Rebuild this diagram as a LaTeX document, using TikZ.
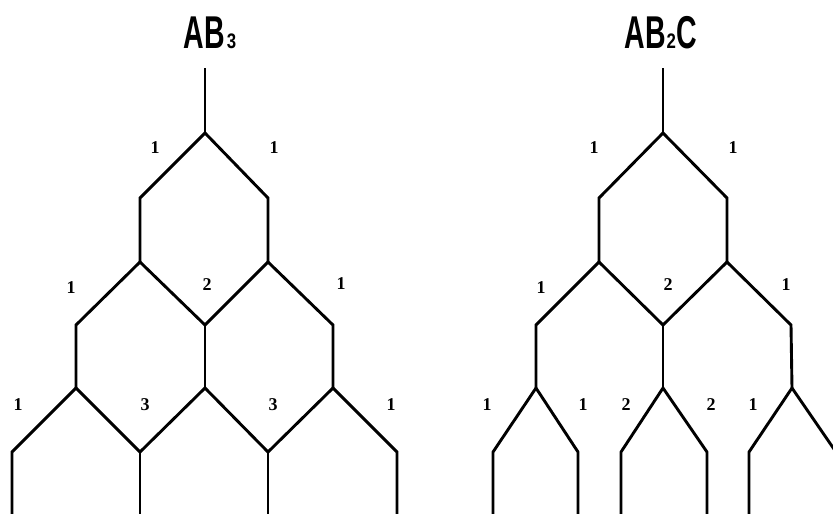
\documentclass[tikz,border=0pt]{standalone}
\usepackage{fontspec}
\setmainfont{Liberation Serif}
\newfontfamily\titlefont{Liberation Sans}
\newcommand{\narrow}[1]{\scalebox{0.62}[1]{\bfseries #1}}
\newcommand{\subdig}[1]{\scalebox{0.8}[1]{\fontsize{21}{21}\selectfont\bfseries #1}}
\begin{document}
\begin{tikzpicture}[x=1pt,y=-1pt,
  bond/.style={line width=2.9pt, line join=miter},
  lbl/.style={font=\bfseries\fontsize{18}{18}\selectfont, inner sep=0pt},
  ttl/.style={font=\titlefont\fontsize{46}{46}\selectfont, inner sep=0pt, anchor=base}]
\useasboundingbox (0,0) rectangle (833,514);
% ---------- left tree ----------
\coordinate (r0) at (205,68);  \coordinate (r) at (205,133);
\coordinate (a1) at (140,198); \coordinate (a2) at (268,198);
\coordinate (a1d) at (140,262); \coordinate (a2d) at (268,262);
\coordinate (b1) at (76,325); \coordinate (b2) at (205,325); \coordinate (b3) at (333,325);
\coordinate (b1d) at (76,388); \coordinate (b2d) at (205,388); \coordinate (b3d) at (333,388);
\coordinate (c1) at (12,452); \coordinate (c2) at (140,452); \coordinate (c3) at (268,452); \coordinate (c4) at (397,452);
\coordinate (c1d) at (12,518); \coordinate (c2d) at (140,518); \coordinate (c3d) at (268,518); \coordinate (c4d) at (397,518);
\draw[bond] (r0) -- (r);
\draw[bond] (a1d) -- (a1) -- (r) -- (a2) -- (a2d);
\draw[bond] (b1d) -- (b1) -- (a1d) -- (b2) -- (a2d) -- (b3) -- (b3d);
\draw[bond] (b2) -- (b2d);
\draw[bond] (c1d) -- (c1) -- (b1d) -- (c2) -- (b2d) -- (c3) -- (b3d) -- (c4) -- (c4d);
\draw[bond] (c2) -- (c2d);
\draw[bond] (c3) -- (c3d);
\node[ttl] (t1) at (210,48) {\narrow{AB}\hspace{2pt}\subdig{3}};
\node[lbl] (l1) at (155,148) {1};
\node[lbl] (l2) at (274,148) {1};
\node[lbl] (l3) at (71,288) {1};
\node[lbl] (l4) at (207,285) {2};
\node[lbl] (l5) at (341,284) {1};
\node[lbl] (l6) at (18,405) {1};
\node[lbl] (l7) at (145,405) {3};
\node[lbl] (l8) at (273,405) {3};
\node[lbl] (l9) at (391,405) {1};
% ---------- right tree ----------
\coordinate (R0) at (663,68);  \coordinate (R) at (663,133);
\coordinate (A1) at (599,198); \coordinate (A2) at (727,198);
\coordinate (A1d) at (599,262); \coordinate (A2d) at (727,262);
\coordinate (B1) at (536,325); \coordinate (B2) at (663,325); \coordinate (B3) at (791,325);
\coordinate (B1d) at (536,388); \coordinate (B2d) at (663,388); \coordinate (B3d) at (792,388);
\coordinate (C1) at (493,452); \coordinate (C2) at (578,452);
\coordinate (C3) at (621,452); \coordinate (C4) at (707,452);
\coordinate (C5) at (749,452); \coordinate (C6) at (836,452);
\coordinate (C1d) at (493,518); \coordinate (C2d) at (578,518);
\coordinate (C3d) at (621,518); \coordinate (C4d) at (707,518);
\coordinate (C5d) at (749,518); \coordinate (C6d) at (836,518);
\draw[bond] (R0) -- (R);
\draw[bond] (A1d) -- (A1) -- (R) -- (A2) -- (A2d);
\draw[bond] (B1d) -- (B1) -- (A1d) -- (B2) -- (A2d) -- (B3) -- (B3d);
\draw[bond] (B2) -- (B2d);
\draw[bond] (C1d) -- (C1) -- (B1d) -- (C2) -- (C2d);
\draw[bond] (C3d) -- (C3) -- (B2d) -- (C4) -- (C4d);
\draw[bond] (C5d) -- (C5) -- (B3d) -- (C6) -- (C6d);
\node[ttl] (t2) at (661,48) {\narrow{AB}\hspace{1pt}\subdig{2}\hspace{1pt}\narrow{C}};
\node[lbl] (m1) at (594,148) {1};
\node[lbl] (m2) at (733,148) {1};
\node[lbl] (m3) at (541,288) {1};
\node[lbl] (m4) at (668,285) {2};
\node[lbl] (m5) at (786,285) {1};
\node[lbl] (m6) at (487,405) {1};
\node[lbl] (m7) at (583,405) {1};
\node[lbl] (m8) at (626,405) {2};
\node[lbl] (m9) at (711,405) {2};
\node[lbl] (m10) at (753,405) {1};
\end{tikzpicture}
\end{document}
